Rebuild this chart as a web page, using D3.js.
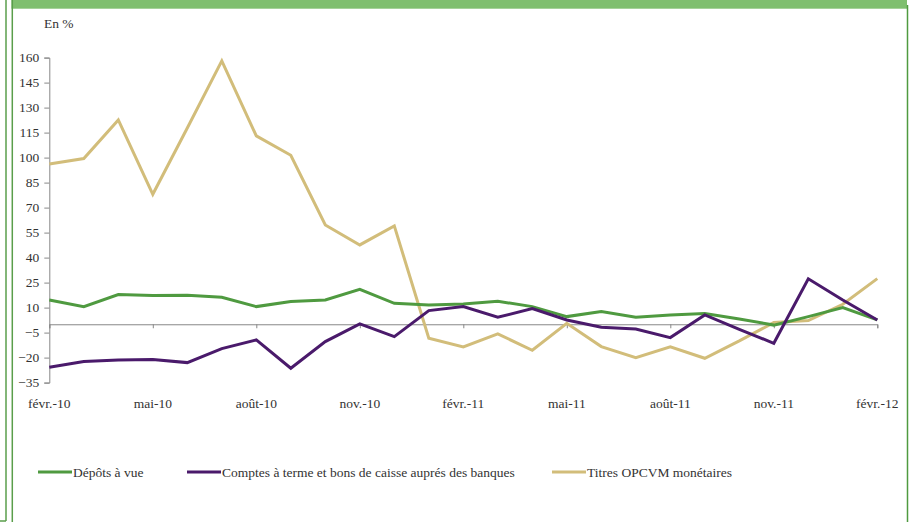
<!DOCTYPE html>
<html>
<head>
<meta charset="utf-8">
<script src="https://cdn.jsdelivr.net/npm/d3@7"></script>
<style>
  html, body { margin: 0; padding: 0; background: #fff; }
  svg { display: block; }
</style>
</head>
<body>
<svg id="chart" width="917" height="522"></svg>
<script>
// ---- Data ----
const months = ["févr.-10","mars-10","avr.-10","mai-10","juin-10","juil.-10","août-10","sept.-10","oct.-10","nov.-10","déc.-10","janv.-11",
                "févr.-11","mars-11","avr.-11","mai-11","juin-11","juil.-11","août-11","sept.-11","oct.-11","nov.-11","déc.-11","janv.-12","févr.-12"];
const tickLabels = ["févr.-10","mai-10","août-10","nov.-10","févr.-11","mai-11","août-11","nov.-11","févr.-12"];
const yTicks = [160,145,130,115,100,85,70,55,40,25,10,-5,-20,-35];
const seriesNames = ["Dépôts à vue", "Comptes à terme et bons de caisse auprés des banques", "Titres OPCVM monétaires"];
const depotsAVue = [14.6,10.6,17.8,17.2,17.4,16.2,10.6,13.6,14.6,21,12.6,11.6,12.2,13.8,10.6,4.6,7.6,4.2,5.6,6.4,3.2,-0.5,4.6,10,2.6];
const comptesATerme = [-25.8,-22.4,-21.4,-21.2,-23,-14.6,-9.4,-26.4,-10.4,0.2,-7.4,8.2,10.6,4.2,9.4,2.6,-1.8,-2.8,-8,5.6,-3,-11.4,27.3,14.6,2.6];
const titresOPCVM = [96.2,99.4,122.6,78,117.8,158,113,101.4,59.6,47.6,59,-8.4,-13.6,-5.8,-15.6,0.6,-13.4,-20,-13.6,-20.4,-10,1,2.2,12,27.4];
const colors = ["#4f9a40", "#4a1a6b", "#d2bd7a"];

const FONT = "'Liberation Serif', 'DejaVu Serif', serif";

// ---- Layout ----
const svg = d3.select("#chart");
const x0 = 49.3, x1 = 877.3, yTop = 57.6, yBot = 382.6;

const x = d3.scalePoint().domain(months).range([x0, x1]);
const y = d3.scaleLinear().domain([-35, 160]).range([yBot, yTop]);

// Frame
svg.append("rect").attr("x", 11.5).attr("y", 0).attr("width", 895.5).attr("height", 8.7).attr("fill", "#7fbf6f");
svg.append("line").attr("x1", 6).attr("x2", 6).attr("y1", 0).attr("y2", 521).attr("stroke", "#5a9e4b").attr("stroke-width", 1.5);
svg.append("line").attr("x1", 0).attr("x2", 6).attr("y1", 521).attr("y2", 521).attr("stroke", "#5a9e4b").attr("stroke-width", 1.5);
svg.append("line").attr("x1", 12.3).attr("x2", 12.3).attr("y1", 0).attr("y2", 522).attr("stroke", "#5a9e4b").attr("stroke-width", 1.5);
svg.append("line").attr("x1", 907.5).attr("x2", 907.5).attr("y1", 5).attr("y2", 522).attr("stroke", "#4f9a40").attr("stroke-width", 1.5);

// Unit label
svg.append("text").attr("x", 44).attr("y", 28).style("font-family", FONT).style("font-size", "13.5px")
  .style("fill", "#333").text("En %");

// Y axis
const yAxis = d3.axisLeft(y).tickValues(yTicks).tickSize(5).tickPadding(5).tickFormat(d3.format("d"));
const gy = svg.append("g").attr("transform", `translate(${x0},0)`).call(yAxis);
gy.select(".domain").attr("stroke", "#888").attr("stroke-width", 1);
gy.selectAll(".tick line").attr("stroke", "#888");
gy.selectAll(".tick text").style("font-size", "13.5px").style("fill", "#333").style("font-family", FONT);

// X axis (at zero)
const xAxis = d3.axisBottom(x).tickValues(tickLabels).tickSize(4).tickFormat("");
const gx = svg.append("g").attr("transform", `translate(0,${y(0)})`).call(xAxis);
gx.select(".domain").attr("stroke", "#888").attr("stroke-width", 1);
gx.selectAll(".tick line").attr("stroke", "#888");

// X labels at bottom
svg.append("g").selectAll("text").data(tickLabels).join("text")
  .attr("x", d => x(d)).attr("y", 408).attr("text-anchor", "middle")
  .style("font-family", FONT).style("font-size", "13.5px").style("fill", "#333")
  .text(d => d);

// Lines
const allSeries = [depotsAVue, comptesATerme, titresOPCVM];
const line = d3.line().x((d, i) => x(months[i])).y(d => y(d));
[2, 0, 1].forEach(k => {
  svg.append("path").datum(allSeries[k]).attr("d", line)
    .attr("fill", "none").attr("stroke", colors[k]).attr("stroke-width", 3)
    .attr("stroke-linejoin", "miter");
});

// Legend
const legendX = [38, 187, 552];
const legendY = 472;
seriesNames.forEach((name, k) => {
  svg.append("line").attr("x1", legendX[k]).attr("x2", legendX[k] + 34)
    .attr("y1", legendY).attr("y2", legendY).attr("stroke", colors[k]).attr("stroke-width", 3);
  svg.append("text").attr("x", legendX[k] + 35).attr("y", legendY + 5)
    .style("font-family", FONT).style("font-size", "13.5px").style("fill", "#333").text(name);
});
</script>
</body>
</html>
